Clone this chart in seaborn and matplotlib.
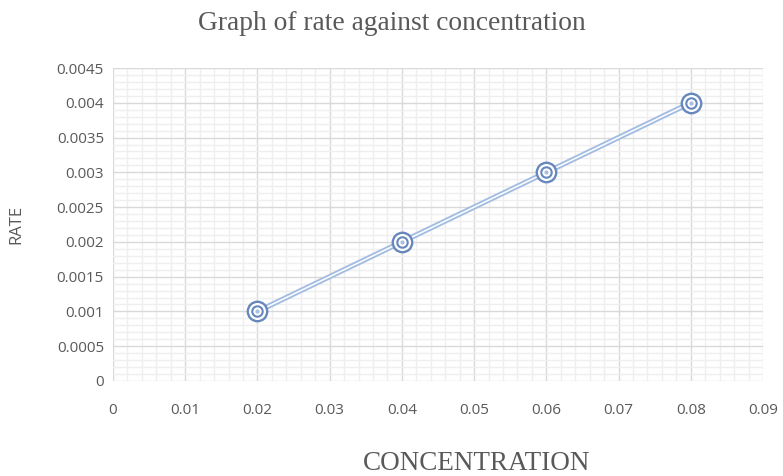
import matplotlib
matplotlib.use("Agg")
import matplotlib.pyplot as plt
import seaborn as sns
import pandas as pd
from matplotlib.ticker import MultipleLocator

concentration = [0.02, 0.04, 0.06, 0.08]
rate = [0.001, 0.002, 0.003, 0.004]
x_ticks = [0, 0.01, 0.02, 0.03, 0.04, 0.05, 0.06, 0.07, 0.08, 0.09]
x_labels = ["0", "0.01", "0.02", "0.03", "0.04", "0.05", "0.06", "0.07", "0.08", "0.09"]
y_ticks = [0, 0.0005, 0.001, 0.0015, 0.002, 0.0025, 0.003, 0.0035, 0.004, 0.0045]
y_labels = ["0", "0.0005", "0.001", "0.0015", "0.002", "0.0025", "0.003", "0.0035", "0.004", "0.0045"]

df = pd.DataFrame({"CONCENTRATION": concentration, "RATE": rate})

sns.set_style("white")
fig = plt.figure(figsize=(7.83, 4.76), dpi=100)
W, H = 783, 476
ax = fig.add_axes([113 / W, 1 - 381 / H, (763 - 113) / W, (381 - 68) / H])

line_c = "#a3bde2"
mark_c = "#6688bd"

sns.lineplot(data=df, x="CONCENTRATION", y="RATE", ax=ax, color=line_c, lw=3.8, zorder=3)
sns.lineplot(data=df, x="CONCENTRATION", y="RATE", ax=ax, color="white", lw=1.1, zorder=4)
ax.plot(df["CONCENTRATION"], df["RATE"], ls="none", marker="o", ms=14, mfc="white",
        mec=mark_c, mew=1.7, zorder=5)
ax.plot(df["CONCENTRATION"], df["RATE"], ls="none", marker="o", ms=7.5, mfc="white",
        mec=mark_c, mew=1.5, zorder=6)
ax.plot(df["CONCENTRATION"], df["RATE"], ls="none", marker="o", ms=3, mfc="#a8bfdf",
        mec="#a8bfdf", mew=0, zorder=7)

ax.set_xlim(0, 0.09)
ax.set_ylim(0, 0.0045)
ax.set_xticks(x_ticks)
ax.set_yticks(y_ticks)
ax.xaxis.set_minor_locator(MultipleLocator(0.002))
ax.yaxis.set_minor_locator(MultipleLocator(0.0001))
ax.set_xticklabels(x_labels)
ax.set_yticklabels(y_labels)
ax.grid(which="major", color="#d9d9d9", lw=1.0, zorder=1)
ax.grid(which="minor", color="#efefef", lw=1.0, zorder=0)
ax.set_axisbelow(True)
for s in ax.spines.values():
    s.set_visible(False)
ax.tick_params(which="both", length=0, labelsize=11, labelcolor="#595959")
ax.tick_params(axis="y", pad=6.5)
ax.tick_params(axis="x", pad=16)
for lab in ax.get_xticklabels() + ax.get_yticklabels():
    lab.set_fontfamily("Open Sans")

ax.set_xlabel("")
ax.set_ylabel("")
fig.text(16 / W, 1 - 224 / H, "RATE", rotation=90, ha="center", va="center",
         fontsize=12, color="#595959", fontfamily="Open Sans")
fig.text(477 / W, 1 - 463 / H, "CONCENTRATION", ha="center", va="center",
         fontsize=19.5, color="#595959", fontfamily="Liberation Serif")
fig.text(392 / W, 1 - 24 / H, "Graph of rate against concentration", ha="center", va="center",
         fontsize=19.8, color="#595959", fontfamily="Liberation Serif")

fig.savefig("out.png", dpi=100, facecolor="white")
